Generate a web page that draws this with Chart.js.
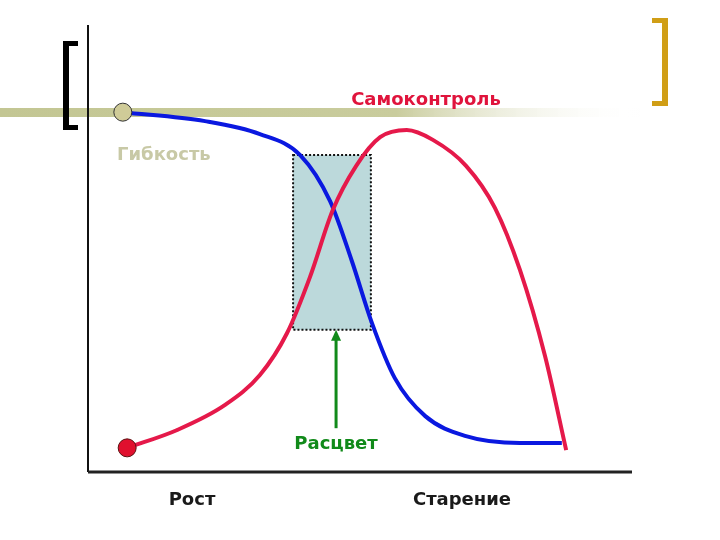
<!DOCTYPE html>
<html>
<head>
<meta charset="utf-8">
<script src="https://cdn.jsdelivr.net/npm/chart.js@4"></script>
<style>
  html, body { margin: 0; padding: 0; background: #fff; }
  #wrap { width: 720px; height: 540px; }
</style>
</head>
<body>
<div id="wrap"><canvas id="lifeChart" width="720" height="540"></canvas></div>
<script>
// Данные кривых (условные единицы 0..100)
const flexX = [6.4, 21.5, 31.6, 39.0, 44.5, 48.5, 52.2, 56.4, 62.0, 69.3, 79.4, 87.1];
const flexY = [80.5, 78.5, 75.6, 70.9, 60.6, 47.2, 33.3, 21.0, 12.5, 8.1, 6.5, 6.5];

const controlX = [7.2, 16.4, 25.2, 31.6, 36.6, 40.8, 45.0, 49.3, 53.7, 58.6, 63.4, 69.5, 74.8, 79.4, 84.0, 87.9];
const controlY = [5.4, 9.4, 15.0, 21.7, 31.1, 43.6, 58.6, 68.5, 74.9, 76.5, 74.3, 68.5, 59.1, 45.2, 26.0, 4.9];

// Зона "Расцвет": [xмин, xмакс], [yмин, yмакс]
const bloomX = [37.7, 52.0];
const bloomY = [31.8, 70.9];
const arrowX = 45.6;
const arrowY = [9.8, 31.8];

const labels = {
    flex: 'Гибкость',
    control: 'Самоконтроль',
    bloom: 'Расцвет',
    growth: 'Рост',
    aging: 'Старение'
};

const toPoints = (xs, ys) => xs.map((x, i) => ({ x: x, y: ys[i] }));
const firstOnly = (n, r) => Array.from({ length: n }, (_, i) => i === 0 ? r : 0);

const FONT = '"DejaVu Sans", Verdana, sans-serif';

// Оформление слайда и подписи
const slidePlugin = {
    id: 'slide',
    beforeDatasetsDraw(chart) {
        const c = chart.ctx;
        const xs = chart.scales.x, ys = chart.scales.y;
        const area = chart.chartArea;
        c.save();

        // оливковая полоса
        const g = c.createLinearGradient(0, 0, 640, 0);
        g.addColorStop(0, '#c3c693');
        g.addColorStop(0.62, '#c9cc9d');
        g.addColorStop(1, 'rgba(255,255,255,0)');
        c.fillStyle = g;
        c.fillRect(0, 108, 640, 9);

        // чёрная скобка
        c.fillStyle = '#000';
        c.fillRect(63, 41, 6, 89);
        c.fillRect(63, 41, 15, 5);
        c.fillRect(63, 125, 15, 5);

        // золотая скобка
        c.fillStyle = '#d09e16';
        c.fillRect(662, 18, 6, 88);
        c.fillRect(652, 18, 16, 5);
        c.fillRect(652, 101, 16, 5);

        // оси
        c.strokeStyle = '#111';
        c.lineWidth = 2;
        c.beginPath();
        c.moveTo(area.left, area.top);
        c.lineTo(area.left, area.bottom);
        c.stroke();
        c.strokeStyle = '#222';
        c.lineWidth = 3;
        c.beginPath();
        c.moveTo(area.left, area.bottom);
        c.lineTo(area.right, area.bottom);
        c.stroke();

        // зона расцвета
        const x0 = xs.getPixelForValue(bloomX[0]), x1 = xs.getPixelForValue(bloomX[1]);
        const y0 = ys.getPixelForValue(bloomY[1]), y1 = ys.getPixelForValue(bloomY[0]);
        c.fillStyle = '#bcd9db';
        c.fillRect(x0, y0, x1 - x0, y1 - y0);
        c.setLineDash([2, 2]);
        c.lineWidth = 2;
        c.strokeStyle = '#111';
        c.strokeRect(x0, y0, x1 - x0, y1 - y0);
        c.restore();
    },
    afterDatasetsDraw(chart) {
        const c = chart.ctx;
        const xs = chart.scales.x, ys = chart.scales.y;
        c.save();

        // зелёная стрелка
        const ax = xs.getPixelForValue(arrowX);
        const top = ys.getPixelForValue(arrowY[1]);
        const bot = ys.getPixelForValue(arrowY[0]);
        c.strokeStyle = '#118a1a';
        c.fillStyle = '#118a1a';
        c.lineWidth = 3;
        c.beginPath();
        c.moveTo(ax, top + 8);
        c.lineTo(ax, bot);
        c.stroke();
        c.beginPath();
        c.moveTo(ax, top);
        c.lineTo(ax - 5, top + 11);
        c.lineTo(ax + 5, top + 11);
        c.closePath();
        c.fill();

        c.font = 'bold 18px ' + FONT;
        c.textBaseline = 'middle';
        c.textAlign = 'center';
        c.fillStyle = '#e0143c';
        c.fillText(labels.control, 426, 100);
        c.fillStyle = '#118a1a';
        c.fillText(labels.bloom, 336, 444);
        c.fillStyle = '#1a1a1a';
        c.fillText(labels.growth, 192, 500);
        c.fillText(labels.aging, 462, 500);
        c.textAlign = 'left';
        c.fillStyle = '#c8c9a6';
        c.fillText(labels.flex, 117, 155);
        c.restore();
    }
};

new Chart(document.getElementById('lifeChart').getContext('2d'), {
    type: 'line',
    data: {
        datasets: [
            {
                label: labels.control,
                data: toPoints(controlX, controlY),
                borderColor: '#e5194a',
                borderWidth: 4,
                cubicInterpolationMode: 'monotone',
                pointRadius: firstOnly(controlX.length, 9),
                pointBackgroundColor: '#e0102e',
                pointBorderColor: '#5a1010',
                pointBorderWidth: 1,
                fill: false
            },
            {
                label: labels.flex,
                data: toPoints(flexX, flexY),
                borderColor: '#0a18e0',
                borderWidth: 4,
                cubicInterpolationMode: 'monotone',
                pointRadius: firstOnly(flexX.length, 9),
                pointBackgroundColor: '#cfcb98',
                pointBorderColor: '#333',
                pointBorderWidth: 1,
                fill: false
            }
        ]
    },
    options: {
        responsive: false,
        animation: false,
        layout: { padding: { left: 88, right: 88, top: 25, bottom: 68 } },
        plugins: {
            legend: { display: false },
            tooltip: { enabled: false }
        },
        scales: {
            x: { type: 'linear', min: 0, max: 100, display: false },
            y: { type: 'linear', min: 0, max: 100, display: false }
        }
    },
    plugins: [slidePlugin]
});
</script>
</body>
</html>
